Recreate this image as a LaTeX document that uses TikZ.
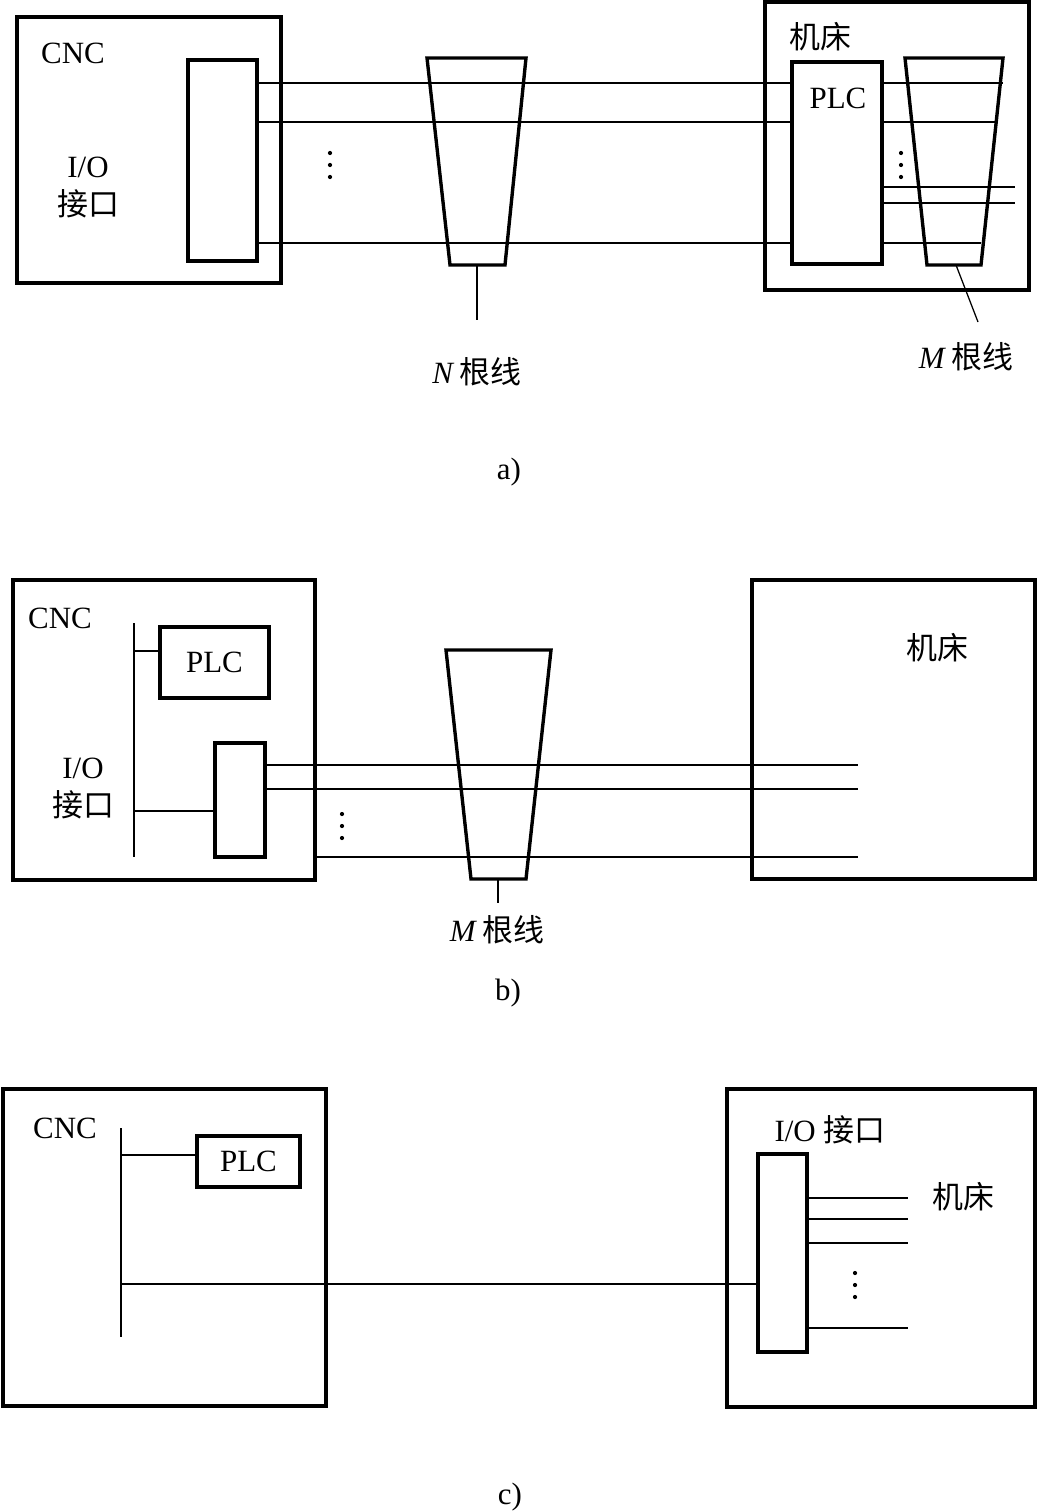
\documentclass[tikz,border=0pt]{standalone}
\usepackage{fontspec}
\setmainfont{Liberation Serif}
\newfontfamily\cjk{Noto Sans CJK SC}
\usetikzlibrary{positioning}
\tikzset{
  blk/.style={draw, line width=2.4pt, inner sep=0pt},
  wire/.style={line width=0.9pt},
  bus/.style={line width=2pt},
  lbl/.style={font=\fontsize{22}{26}\selectfont, inner sep=0pt},
}

\begin{document}
\begin{tikzpicture}[x=0.025cm, y=-0.025cm]
  \useasboundingbox (0,0) rectangle (1037,1511);

  % a) I/O in the CNC, PLC in the machine
  \node[blk, minimum width=6.6cm, minimum height=6.65cm] (cncA) at (149,150) {};
  \node[blk, minimum width=1.725cm, minimum height=5.025cm] (ioA) at (222.5,160.5) {};
  \node[blk, minimum width=6.6cm, minimum height=7.2cm] (mchA) at (897,146) {};
  \node[blk, minimum width=2.25cm, minimum height=5.05cm] (plcA) at (837,163) {};
  \node[lbl] (cncAtxt) at (73,53) {CNC};
  \node[lbl] (ioAtxt) at (88,167) {I/O};
  \node[lbl, below=0.3cm of ioAtxt] (ioAtxt2) {\cjk 接口};
  \node[lbl] (mchAtxt) at (820,37) {\cjk 机床};
  \node[lbl] (plcAtxt) at (838,98) {PLC};
  \draw[wire] (ioA.east |- 0,83) -- (plcA.west |- 0,83);
  \draw[wire] (ioA.east |- 0,122) -- (plcA.west |- 0,122);
  \draw[wire] (ioA.east |- 0,243) -- (plcA.west |- 0,243);
  \foreach \dy in {0,12,24} \fill (330,153+\dy) circle (1.5pt);
  \draw[wire] (plcA.east |- 0,83) -- +(119,0);
  \draw[wire] (plcA.east |- 0,122) -- +(113,0);
  \draw[wire] (plcA.east |- 0,187) -- +(131,0);
  \draw[wire] (plcA.east |- 0,203) -- +(131,0);
  \draw[wire] (plcA.east |- 0,243) -- +(97,0);
  \foreach \dy in {0,12,24} \fill (901,153+\dy) circle (1.5pt);
  % bundles
  \draw[blk] (427,58) -- (526,58) -- (505,265) -- (450,265) -- cycle;
  \coordinate (bunN) at (477,265);
  \draw[wire] (bunN) -- +(0,55);
  \node[lbl] (bunNtxt) at (477,372) {\textit{N}\,{\cjk 根线}};
  \draw[blk] (905,58) -- (1003,58) -- (981,265) -- (927,265) -- cycle;
  \coordinate (bunM) at (956,265);
  \draw[wire] (bunM) -- +(22,57);
  \node[lbl] (bunMtxt) at (966,357) {\textit{M}\,{\cjk 根线}};
  \node[lbl] (capA) at (509,472) {a)};

  % b) PLC and I/O in the CNC
  \node[blk, minimum width=7.55cm, minimum height=7.5cm] (cncB) at (164,730) {};
  \node[blk, minimum width=2.725cm, minimum height=1.775cm] (plcB) at (214.5,662.5) {};
  \node[blk, minimum width=1.25cm, minimum height=2.85cm] (ioB) at (240,800) {};
  \node[blk, minimum width=7.075cm, minimum height=7.475cm] (mchB) at (893.5,729.5) {};
  \node[lbl] (cncBtxt) at (60,618) {CNC};
  \node[lbl] (plcBtxt) at (plcB) {PLC};
  \node[lbl] (ioBtxt) at (83,768) {I/O};
  \node[lbl, below=0.3cm of ioBtxt] (ioBtxt2) {\cjk 接口};
  \node[lbl] (mchBtxt) at (937,648) {\cjk 机床};
  \coordinate (busBtop) at (134,623);
  \coordinate (busBbot) at (134,857);
  \draw[bus] (busBtop) -- (busBbot);
  \draw[wire] (busBtop |- 0,651) -- (plcB.west |- 0,651);
  \draw[wire] (busBtop |- 0,811) -- (ioB.west |- 0,811);
  \coordinate (endB) at (858,0);
  \draw[wire] (ioB.east |- 0,765) -- (endB |- 0,765);
  \draw[wire] (ioB.east |- 0,789) -- (endB |- 0,789);
  \draw[wire] (cncB.east |- 0,857) -- (endB |- 0,857);
  \foreach \dy in {0,12,24} \fill (342,814+\dy) circle (1.5pt);
  \draw[blk] (446,650) -- (551,650) -- (526,879) -- (471,879) -- cycle;
  \coordinate (bunB) at (498,879);
  \draw[wire] (bunB) -- +(0,24);
  \node[lbl] (bunBtxt) at (497,930) {\textit{M}\,{\cjk 根线}};
  \node[lbl] (capB) at (508,993) {b)};

  % c) I/O in the machine
  \node[blk, minimum width=8.075cm, minimum height=7.925cm] (cncC) at (164.5,1247.5) {};
  \node[blk, minimum width=2.575cm, minimum height=1.275cm] (plcC) at (248.5,1161.5) {};
  \node[blk, minimum width=7.7cm, minimum height=7.95cm] (mchC) at (881,1248) {};
  \node[blk, minimum width=1.225cm, minimum height=4.95cm] (ioC) at (782.5,1253) {};
  \node[lbl] (cncCtxt) at (65,1128) {CNC};
  \node[lbl] (plcCtxt) at (plcC) {PLC};
  \node[lbl] (ioCtxt) at (830,1130) {I/O {\cjk 接口}};
  \node[lbl] (mchCtxt) at (963,1197) {\cjk 机床};
  \coordinate (busCtop) at (121,1128);
  \coordinate (busCbot) at (121,1337);
  \draw[bus] (busCtop) -- (busCbot);
  \draw[wire] (busCtop |- 0,1155) -- (plcC.west |- 0,1155);
  \draw[wire] (busCtop |- 0,1284) -- (ioC.west |- 0,1284);
  \coordinate (endC) at (908,0);
  \draw[wire] (ioC.east |- 0,1198) -- (endC |- 0,1198);
  \draw[wire] (ioC.east |- 0,1219) -- (endC |- 0,1219);
  \draw[wire] (ioC.east |- 0,1243) -- (endC |- 0,1243);
  \draw[wire] (ioC.east |- 0,1328) -- (endC |- 0,1328);
  \foreach \dy in {0,12,24} \fill (855,1273+\dy) circle (1.5pt);
  \node[lbl] (capC) at (510,1497) {c)};
\end{tikzpicture}
\end{document}
